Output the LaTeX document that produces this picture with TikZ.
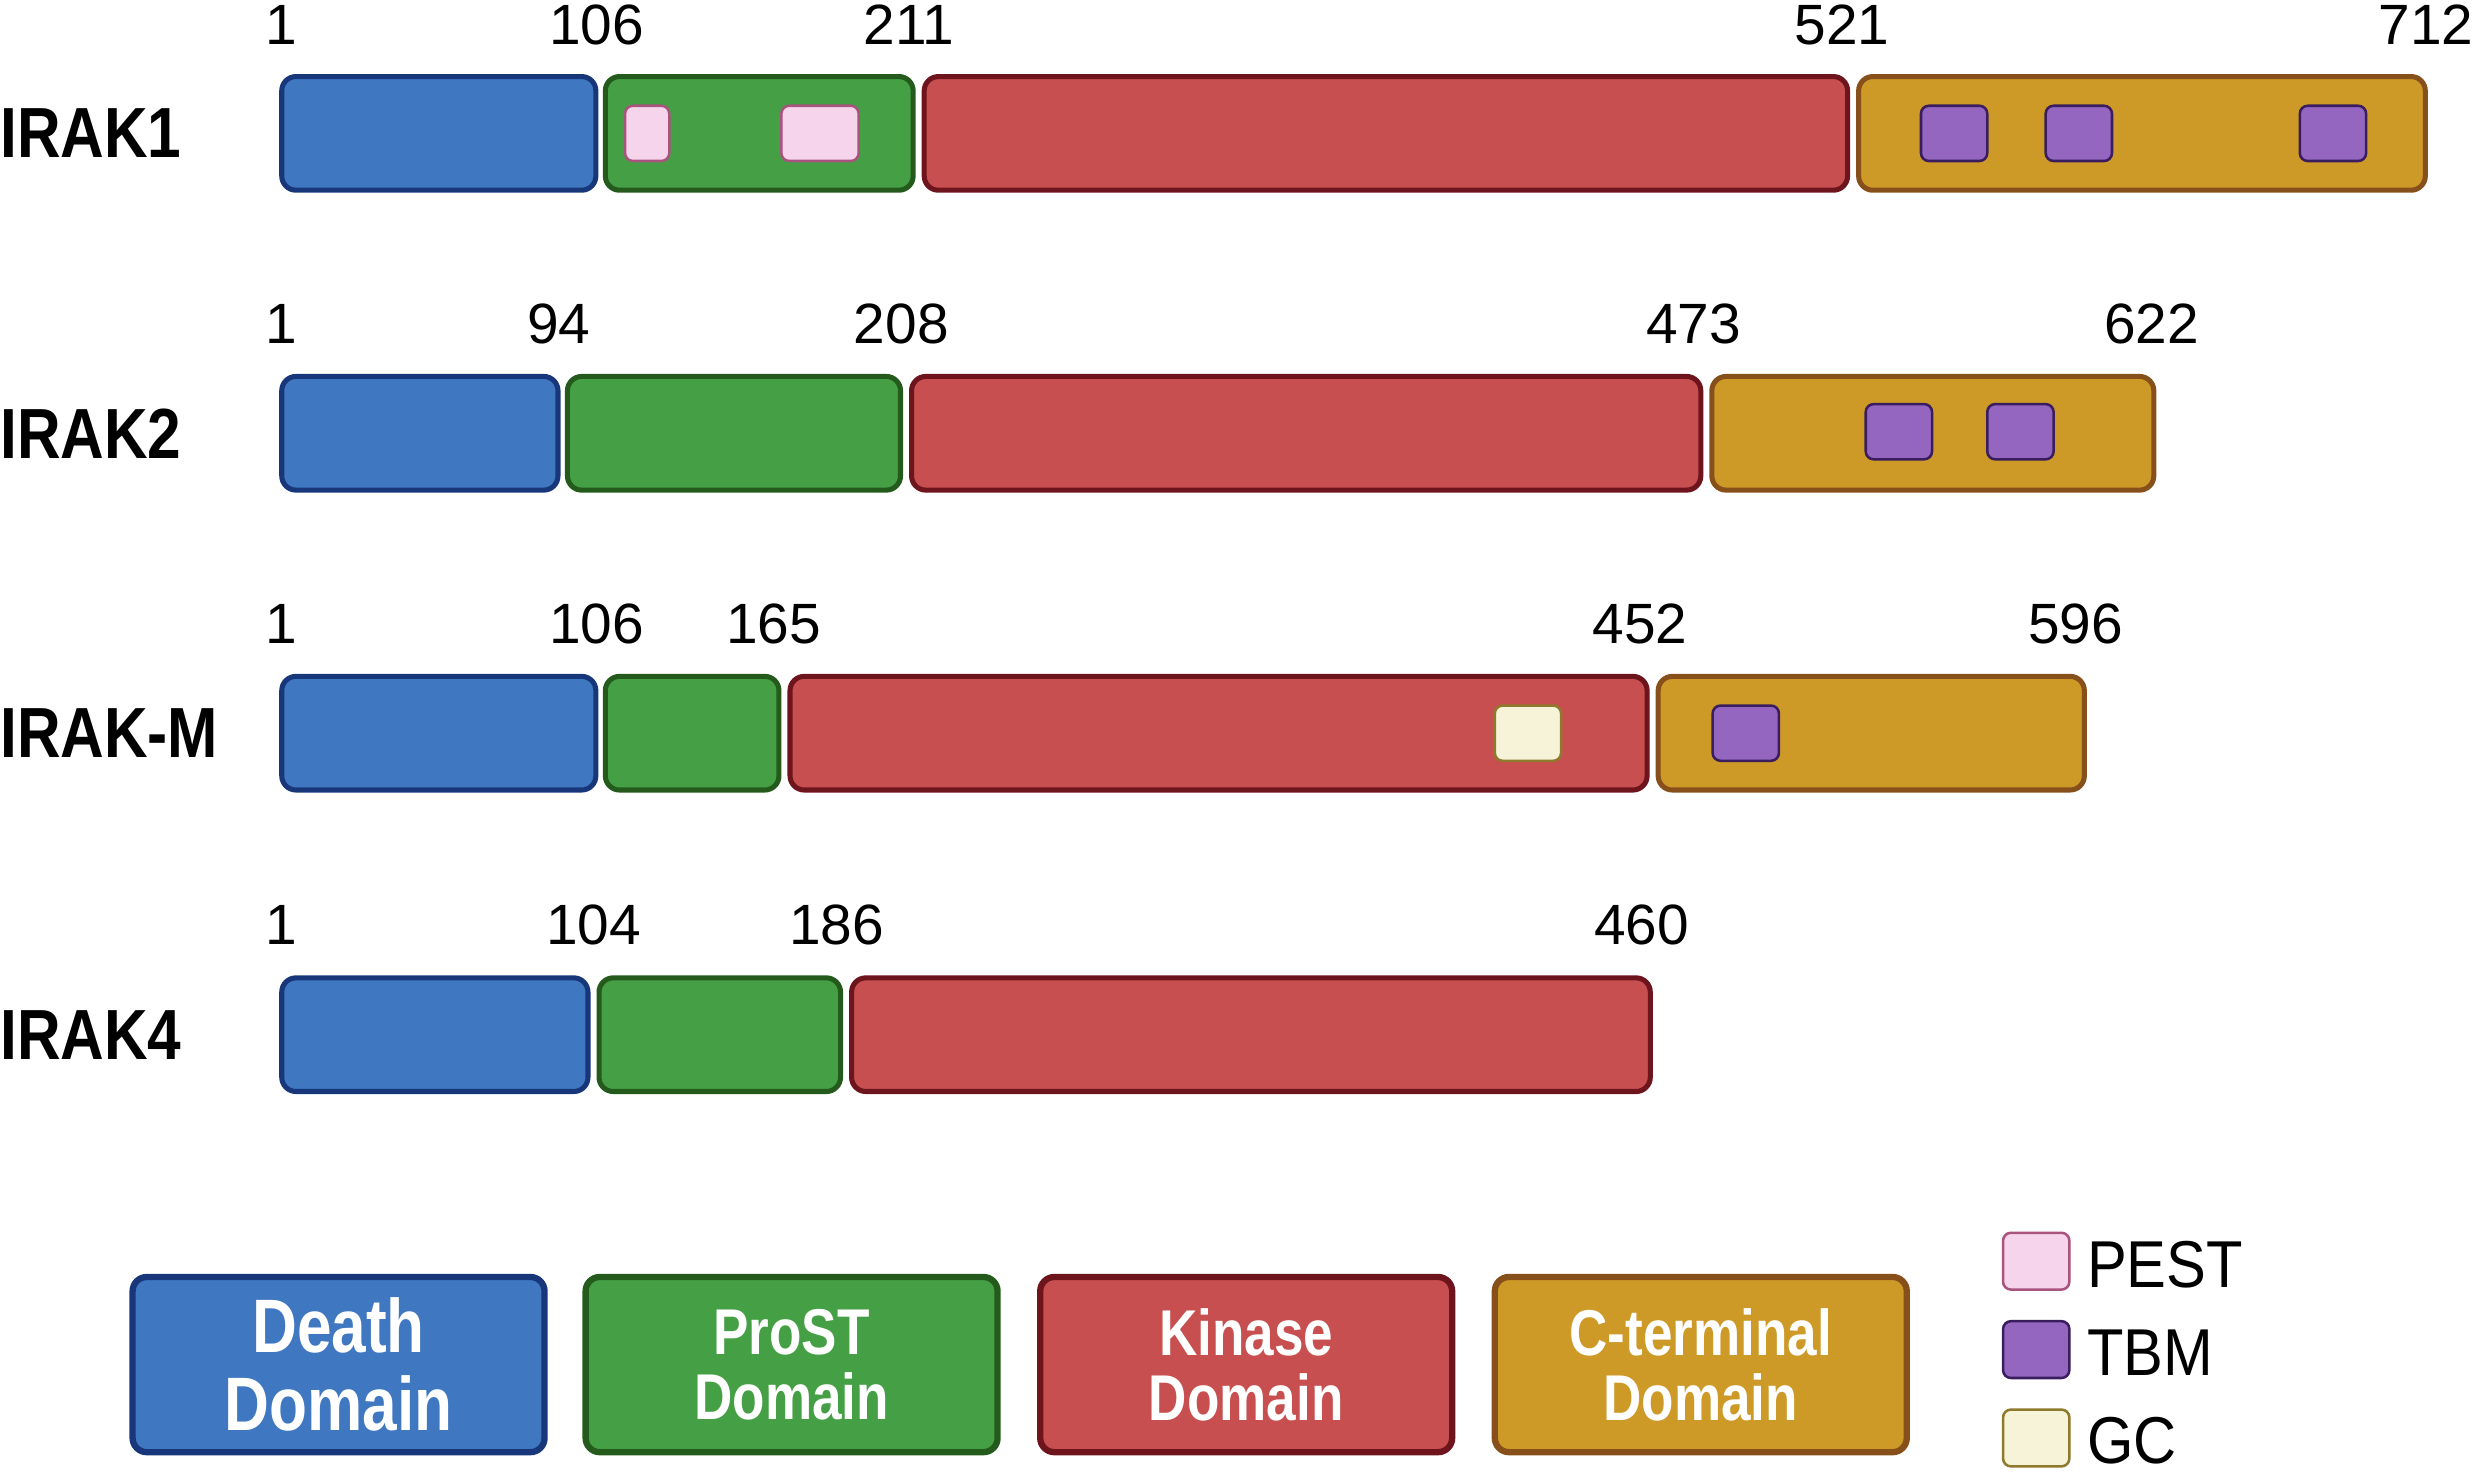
\documentclass[tikz,border=0pt]{standalone}
\usepackage{fontspec}
\setmainfont{Liberation Sans}
\newfontfamily\labfont[FakeStretch=0.85]{Liberation Sans}
\newfontfamily\legfont[FakeStretch=0.82]{Liberation Sans}
\newfontfamily\keyfont[FakeStretch=0.9]{Liberation Sans}
\definecolor{bfill}{HTML}{3F77C1}\definecolor{bdraw}{HTML}{17377A}
\definecolor{gfill}{HTML}{45A045}\definecolor{gdraw}{HTML}{245A1C}
\definecolor{rfill}{HTML}{C84F4F}\definecolor{rdraw}{HTML}{6E141C}
\definecolor{ofill}{HTML}{CD9A28}\definecolor{odraw}{HTML}{87501A}
\definecolor{pfill}{HTML}{F6D5EC}\definecolor{pdraw}{HTML}{A9537F}
\definecolor{tfill}{HTML}{9466C0}\definecolor{tdraw}{HTML}{3A1D5E}
\definecolor{cfill}{HTML}{F6F3D8}\definecolor{cdraw}{HTML}{8D7A2C}
\tikzset{
  dom/.style={rectangle, rounded corners=9pt, line width=3.2pt, minimum height=72pt, inner sep=0pt},
  blue/.style={dom, fill=bfill, draw=bdraw},
  green/.style={dom, fill=gfill, draw=gdraw},
  red/.style={dom, fill=rfill, draw=rdraw},
  orange/.style={dom, fill=ofill, draw=odraw},
  motif/.style={rectangle, rounded corners=5pt, line width=1.6pt, minimum height=35pt, minimum width=42pt, inner sep=0pt},
  pest/.style={motif, fill=pfill, draw=pdraw},
  tbm/.style={motif, fill=tfill, draw=tdraw},
  gc/.style={motif, fill=cfill, draw=cdraw},
  num/.style={inner sep=0pt, font=\fontsize{36}{40}\selectfont},
  prot/.style={inner sep=0pt, anchor=west, font=\labfont\bfseries\fontsize{45}{50}\selectfont},
  legbox/.style={line width=4pt, minimum height=111pt, minimum width=261pt, text=white, align=center},
  keytext/.style={inner sep=0pt, anchor=west, font=\keyfont\fontsize{42}{46}\selectfont},
}
\begin{document}
\begin{tikzpicture}[x=1pt,y=-1pt]
\useasboundingbox (0,0) rectangle (1568,934);
% IRAK1
\node[prot] (l1) at (0,84.5) {IRAK1};
\node[blue, minimum width=199pt] (b1) at (278,84.5) {};
\node[green, minimum width=195pt] (g1) at (481,84.5) {};
\node[red, minimum width=585pt] (r1) at (878,84.5) {};
\node[orange, minimum width=359pt] (o1) at (1357,84.5) {};
\node[pest, minimum width=28pt] (p11) at (410,84.5) {};
\node[pest, minimum width=49pt] (p12) at (519.5,84.5) {};
\node[tbm] (t11) at (1238,84.5) {};
\node[tbm] (t12) at (1317,84.5) {};
\node[tbm] (t13) at (1478,84.5) {};
\node[num] (n11) at (178,15.5) {1};
\node[num] (n12) at (378,15.5) {106};
\node[num] (n13) at (576,15.5) {211};
\node[num] (n14) at (1167,15.5) {521};
\node[num] (n15) at (1537,15.5) {712};
% IRAK2
\node[prot] (l2) at (0,274.5) {IRAK2};
\node[blue, minimum width=175pt] (b2) at (266,274.5) {};
\node[green, minimum width=211pt] (g2) at (465,274.5) {};
\node[red, minimum width=500pt] (r2) at (827.5,274.5) {};
\node[orange, minimum width=280pt] (o2) at (1224.5,274.5) {};
\node[tbm] (t21) at (1203,273.5) {};
\node[tbm] (t22) at (1280,273.5) {};
\node[num] (n21) at (178,205) {1};
\node[num] (n22) at (354,205) {94};
\node[num] (n23) at (571,205) {208};
\node[num] (n24) at (1073,205) {473};
\node[num] (n25) at (1363,205) {622};
% IRAK-M
\node[prot] (l3) at (0,464.5) {IRAK-M};
\node[blue, minimum width=199pt] (b3) at (278,464.5) {};
\node[green, minimum width=110pt] (g3) at (438.5,464.5) {};
\node[red, minimum width=543pt] (r3) at (772,464.5) {};
\node[orange, minimum width=270pt] (o3) at (1185.5,464.5) {};
\node[gc] (c31) at (968,464.5) {};
\node[tbm] (t31) at (1106,464.5) {};
\node[num] (n31) at (178,395) {1};
\node[num] (n32) at (378,395) {106};
\node[num] (n33) at (490,395) {165};
\node[num] (n34) at (1039,395) {452};
\node[num] (n35) at (1315,395) {596};
% IRAK4
\node[prot] (l4) at (0,655.5) {IRAK4};
\node[blue, minimum width=194pt] (b4) at (275.5,655.5) {};
\node[green, minimum width=153pt] (g4) at (456,655.5) {};
\node[red, minimum width=506pt] (r4) at (792.5,655.5) {};
\node[num] (n41) at (178,586) {1};
\node[num] (n42) at (376,586) {104};
\node[num] (n43) at (530,586) {186};
\node[num] (n44) at (1040,586) {460};
% Legend
\node[blue, legbox, font=\legfont\bfseries\fontsize{48}{49}\selectfont] (kd) at (214.5,864.5) {Death\\Domain};
\node[green, legbox, font=\legfont\bfseries\fontsize{41}{41}\selectfont] (kp) at (501.5,864.5) {ProST\\Domain};
\node[red, legbox, font=\legfont\bfseries\fontsize{41}{41}\selectfont] (kk) at (789.5,864.5) {Kinase\\Domain};
\node[orange, legbox, font=\legfont\bfseries\fontsize{41}{41}\selectfont] (kc) at (1077.5,864.5) {C-terminal\\Domain};
\node[pest, minimum height=36pt] (kpest) at (1290,799) {};
\node[tbm, minimum height=36pt] (ktbm) at (1290,855) {};
\node[gc, minimum height=36pt] (kgc) at (1290,911) {};
\node[keytext] (tpest) at (1322,801) {PEST};
\node[keytext] (ttbm) at (1322,857) {TBM};
\node[keytext] (tgc) at (1322,913) {GC};
\end{tikzpicture}
\end{document}
